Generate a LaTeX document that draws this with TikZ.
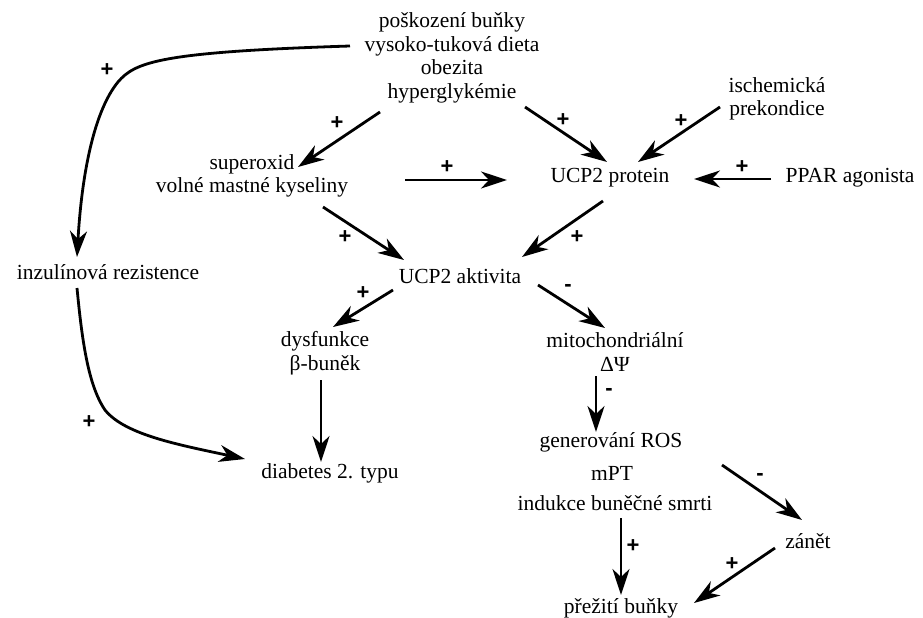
\documentclass[tikz,border=0pt]{standalone}
\usepackage{fontspec}
\setmainfont{Liberation Serif}
\newfontfamily\txtfont{Liberation Serif}
\newfontfamily\signfont{Liberation Sans}
\usetikzlibrary{arrows.meta}

\tikzset{
 lbl/.style={inner sep=0pt, align=center, font=\txtfont\fontsize{21.5}{23.5}\selectfont},
 arr/.style={line width=2.8pt, -{Stealth[length=26pt,width=17pt,inset=8pt]}},
 pm/.style={inner sep=0pt, font=\signfont\bfseries\fontsize{22}{22}\selectfont}
}

\begin{document}
\begin{tikzpicture}[x=1pt,y=-1pt]
 \useasboundingbox (0,0) rectangle (923,618);
 % texts
 \node[lbl] (top) at (452,58) {poškození buňky\\vysoko-tuková dieta\\obezita\\hyperglykémie};
 \node[lbl] (isch) at (777,99) {ischemická\\prekondice};
 \node[lbl] (prot) at (610,178) {UCP2 protein};
 \node[lbl] (ppar) at (850,178) {PPAR agonista};
 \node[lbl] (sup) at (252,176) {superoxid\\volné mastné kyseliny};
 \node[lbl] (inz) at (108,272) {inzulínová rezistence};
 \node[lbl] (akt) at (460,276) {UCP2 aktivita};
 \node[lbl] (dys) at (325,353) {dysfunkce\\β-buněk};
 \node[lbl] (diab) at (330,473) {diabetes 2. typu};
 \node[lbl] (mito) at (615,352) {mitochondriální\\ΔΨ};
 \node[lbl] (ros) at (611,442) {generování ROS};
 \node[lbl] (mpt) at (612,473) {mPT};
 \node[lbl] (ind) at (615,503) {indukce buněčné smrti};
 \node[lbl] (zan) at (808,541) {zánět};
 \node[lbl] (prez) at (621,608) {přežití buňky};
 % arrows
 \draw[arr] ([shift={(-102,-12)}]top.center) .. controls (160,52) and (135,62) .. (118,82)
   .. controls (95,110) and (82,170) .. ([shift={(-31,-15)}]inz.center);
 \draw[arr] ([shift={(-31,16)}]inz.center) .. controls (82,340) and (88,385) .. (105,410)
   .. controls (125,435) and (180,445) .. ([shift={(-85,-14)}]diab.center);
 \draw[arr] ([shift={(-72,54)}]top.center) -- ([shift={(46,-9)}]sup.center);
 \draw[arr] ([shift={(73,49)}]top.center) -- ([shift={(-3,-16)}]prot.center);
 \draw[arr] ([shift={(-57,8)}]isch.center) -- ([shift={(28,-16)}]prot.center);
 \draw[arr] ([shift={(-79,1)}]ppar.center) -- ([shift={(84,1)}]prot.center);
 \draw[arr] ([shift={(153,4)}]sup.center) -- ([shift={(-103,2)}]prot.center);
 \draw[arr] ([shift={(71,31)}]sup.center) -- ([shift={(-56,-16)}]akt.center);
 \draw[arr] ([shift={(-7,23)}]prot.center) -- ([shift={(62,-19)}]akt.center);
 \draw[arr] ([shift={(-67,14)}]akt.center) -- ([shift={(8,-26)}]dys.center);
 \draw[arr] ([shift={(78,9)}]akt.center) -- ([shift={(-10,-24)}]mito.center);
 \draw[arr] ([shift={(-4,27)}]dys.center) -- ([shift={(-9,-11)}]diab.center);
 \draw[arr] ([shift={(-19,24)}]mito.center) -- ([shift={(-15,-10)}]ros.center);
 \draw[arr] ([shift={(6,15)}]ind.center) -- ([shift={(0,-13)}]prez.center);
 \draw[arr] ([shift={(110,-8)}]mpt.center) -- ([shift={(-6,-21)}]zan.center);
 \draw[arr] ([shift={(-33,7)}]zan.center) -- ([shift={(73,-5)}]prez.center);
 % signs
 \foreach \x/\y/\s [count=\i] in {107/70/+, 89/422/+, 337/123/+, 563/120/+, 681/121/+,
   742/167/+, 447/167/+, 345/237/+, 577/237/+, 363/293/+, 568/288/-, 609/392/-,
   633/546/+, 760/477/-, 732/564/+}
   {\node[pm] (s\i) at (\x,\y) {\s};}
\end{tikzpicture}
\end{document}
